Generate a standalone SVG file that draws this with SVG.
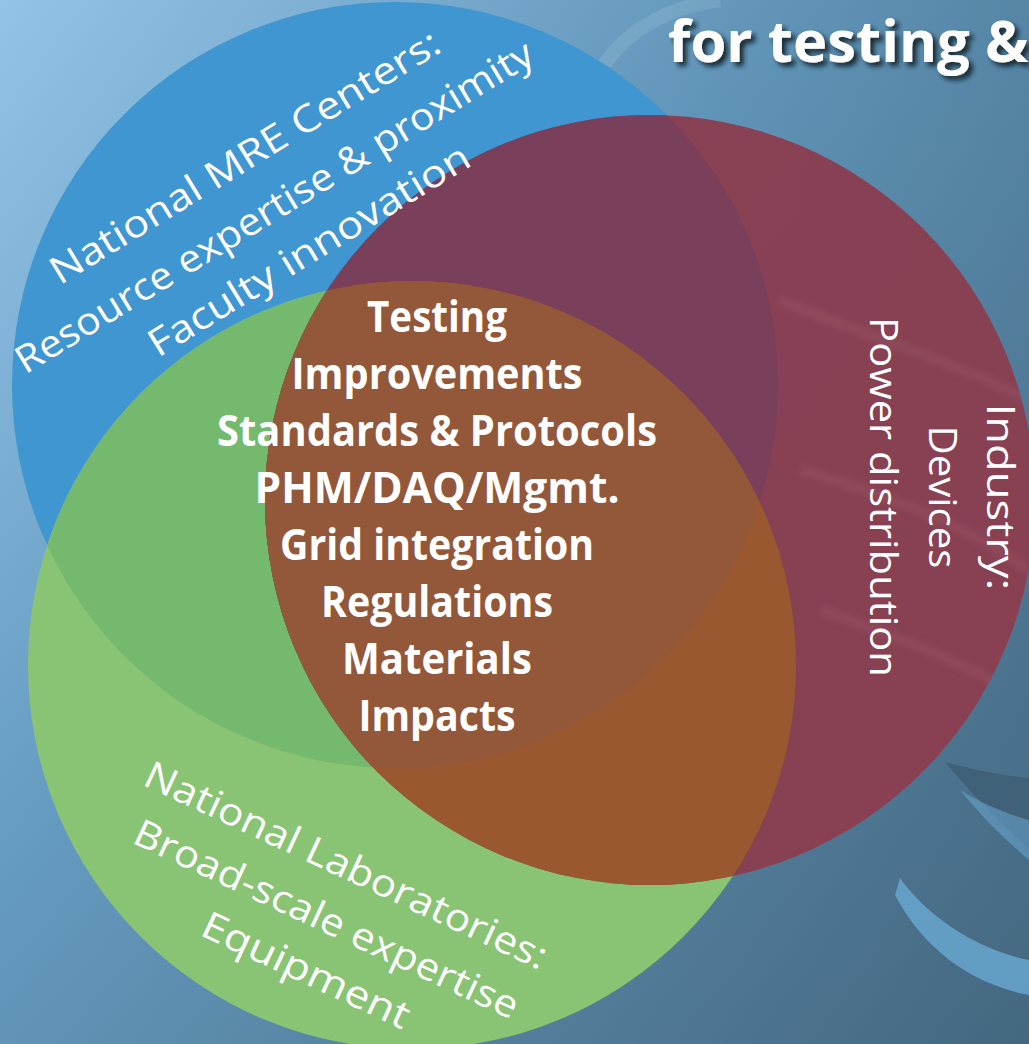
<svg xmlns="http://www.w3.org/2000/svg" width="1029" height="1044" viewBox="0 0 1029 1044">
  <defs>
    <linearGradient id="bg" x1="0" y1="0" x2="1" y2="1">
      <stop offset="0" stop-color="#93c4e7"/>
      <stop offset="0.42" stop-color="#659bc0"/>
      <stop offset="1" stop-color="#47687f"/>
    </linearGradient>
    <linearGradient id="bg2" x1="0" y1="0" x2="1" y2="0">
      <stop offset="0" stop-color="#5b8fb3" stop-opacity="0"/>
      <stop offset="1" stop-color="#3f6680" stop-opacity="0.3"/>
    </linearGradient>
    <clipPath id="clipBlue"><circle cx="395" cy="385" r="383"/></clipPath>
    <clipPath id="clipRed"><circle cx="650" cy="500" r="385"/></clipPath>
    <clipPath id="clipGreen"><circle cx="412" cy="665" r="384"/></clipPath>
    <filter id="shadow" x="-10%" y="-30%" width="130%" height="180%">
      <feDropShadow dx="4" dy="4" stdDeviation="2.5" flood-color="#0d1a24" flood-opacity="0.9"/>
    </filter>
    <filter id="soft" x="-10%" y="-50%" width="120%" height="200%">
      <feGaussianBlur stdDeviation="3"/>
    </filter>
    <style>
      .lbl { font-family: "Open Sans", "Liberation Sans", sans-serif; font-size: 38px; fill: #ffffff; text-anchor: middle; }
      .ctr { font-family: "Open Sans", "Liberation Sans", sans-serif; font-size: 43px; font-weight: bold; fill: #ffffff; text-anchor: middle; }
      .title { font-family: "Open Sans", "Liberation Sans", sans-serif; font-size: 58px; font-weight: bold; fill: #ffffff; }
      .streak { fill: none; stroke: #c98a98; stroke-opacity: 0.12; stroke-width: 10; }
    </style>
  </defs>

  <!-- background -->
  <rect x="0" y="0" width="1029" height="1044" fill="url(#bg)"/>
  <rect x="0" y="0" width="1029" height="1044" fill="url(#bg2)"/>
  <path d="M585,125 C590,50 650,10 720,0" fill="none" stroke="#a9cbe0" stroke-opacity="0.22" stroke-width="14"/>
  <path d="M945,762 C975,770 1005,776 1029,778 L1029,850 C1000,822 970,792 945,762 Z" fill="#3e5f76" fill-opacity="0.85"/>
  <path d="M960,790 C985,805 1010,815 1029,820 L1029,860 C1005,840 980,815 960,790 Z" fill="#6aa8d0" fill-opacity="0.55"/>
  <path d="M900,878 C930,920 980,950 1029,960 L1029,995 C975,985 925,952 895,895 Z" fill="#67a6cf" fill-opacity="0.85"/>

  <text class="title" x="668" y="62" filter="url(#shadow)">for testing &amp;</text>

  <!-- circles -->
  <g id="node-blue">
    <circle cx="395" cy="385" r="383" fill="#4096d0"/>
  </g>
  <g id="node-green">
    <circle cx="412" cy="665" r="384" fill="#89c474"/>
    <circle cx="412" cy="665" r="384" fill="#75b96e" clip-path="url(#clipBlue)"/>
  </g>
  <g id="node-red">
    <circle cx="650" cy="500" r="385" fill="#8b3d4f" fill-opacity="0.95"/>
    <g clip-path="url(#clipRed)" filter="url(#soft)">
      <path class="streak" d="M780,300 C850,330 950,360 1029,400"/>
      <path class="streak" d="M800,470 C870,490 960,520 1029,570"/>
      <path class="streak" d="M820,610 C880,630 960,660 1029,700"/>
    </g>
    <circle cx="650" cy="500" r="385" fill="#7a3f5a" clip-path="url(#clipBlue)"/>
    <circle cx="650" cy="500" r="385" fill="#9a5831" clip-path="url(#clipGreen)"/>
    <g clip-path="url(#clipBlue)">
      <circle cx="650" cy="500" r="385" fill="#935739" clip-path="url(#clipGreen)"/>
    </g>
  </g>

  <g id="connectors"/>

  <!-- labels -->
  <g id="label-blue" transform="translate(281,218) rotate(-31.5)">
    <text class="lbl" x="1" y="-58" textLength="450" lengthAdjust="spacingAndGlyphs">National MRE Centers:</text>
    <text class="lbl" x="0" y="0" textLength="600" lengthAdjust="spacingAndGlyphs">Resource expertise &amp; proximity</text>
    <text class="lbl" x="7" y="55" textLength="370" lengthAdjust="spacingAndGlyphs">Faculty innovation</text>
  </g>
  <g id="label-red" transform="translate(929,497) rotate(90)">
    <text class="lbl" x="0" y="-58" textLength="187" lengthAdjust="spacingAndGlyphs">Industry:</text>
    <text class="lbl" x="0" y="0" textLength="143" lengthAdjust="spacingAndGlyphs">Devices</text>
    <text class="lbl" x="0" y="59" textLength="360" lengthAdjust="spacingAndGlyphs">Power distribution</text>
  </g>
  <g id="label-green" transform="translate(321,931) rotate(25)">
    <text class="lbl" x="-5" y="-57" textLength="440" lengthAdjust="spacingAndGlyphs">National Laboratories:</text>
    <text class="lbl" x="0" y="0" textLength="420" lengthAdjust="spacingAndGlyphs">Broad-scale expertise</text>
    <text class="lbl" x="3" y="55" textLength="225" lengthAdjust="spacingAndGlyphs">Equipment</text>
  </g>
  <g id="node-center">
    <text class="ctr" x="437" y="332" textLength="140" lengthAdjust="spacingAndGlyphs">Testing</text>
    <text class="ctr" x="437" y="389" textLength="291" lengthAdjust="spacingAndGlyphs">Improvements</text>
    <text class="ctr" x="437" y="446" textLength="440" lengthAdjust="spacingAndGlyphs">Standards &amp; Protocols</text>
    <text class="ctr" x="437" y="503" textLength="365" lengthAdjust="spacingAndGlyphs">PHM/DAQ/Mgmt.</text>
    <text class="ctr" x="437" y="560" textLength="314" lengthAdjust="spacingAndGlyphs">Grid integration</text>
    <text class="ctr" x="437" y="617" textLength="232" lengthAdjust="spacingAndGlyphs">Regulations</text>
    <text class="ctr" x="437" y="674" textLength="190" lengthAdjust="spacingAndGlyphs">Materials</text>
    <text class="ctr" x="437" y="731" textLength="157" lengthAdjust="spacingAndGlyphs">Impacts</text>
  </g>
</svg>
